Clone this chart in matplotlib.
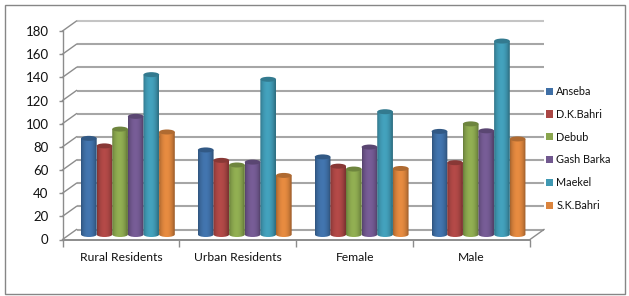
import numpy as np
import matplotlib
matplotlib.use("Agg")
import matplotlib.pyplot as plt
from matplotlib.patches import Ellipse, PathPatch, Rectangle
from matplotlib.path import Path

plt.rcParams["font.family"] = ["Lato", "DejaVu Sans"]

W, H = 629, 296

categories = ["Rural Residents", "Urban Residents", "Female", "Male"]
series_names = ["Anseba", "D.K.Bahri", "Debub", "Gash Barka", "Maekel", "S.K.Bahri"]
anseba = [83, 73, 67, 89]
dk_bahri = [76.5, 64, 59, 62]
debub = [91, 60, 56.5, 95.5]
gash_barka = [102, 62.5, 75.5, 89.5]
maekel = [138, 134, 106, 167]
sk_bahri = [88.5, 51, 57, 82.5]
y_ticks = list(range(0, 200, 20))

series_values = [anseba, dk_bahri, debub, gash_barka, maekel, sk_bahri]
colors = ["#3f6fa6", "#aa4644", "#8aa64e", "#71588f", "#4099b3", "#db843d"]

GRID = "#a6a6a6"
AXIS = "#8c8c8c"

# pixel geometry of the plot box
left, right, top, bottom = 62.5, 530.0, 31.0, 239.5
px_x = 4 / (right - left)
px_y = 180 / (bottom - top)
depth_x = 14 * px_x
depth_y = 10 * px_y
bar_w = 15.7 * px_x
bar_start = 18.5 * px_x
bar_lift = 5 * px_y
cap_h = 5.0 * px_y


def shade(color):
    rgb = np.array(matplotlib.colors.to_rgb(color))
    pos = np.linspace(0, 1, 40)
    light = 0.74 + 0.32 * np.sin(np.pi * np.clip(pos * 1.06, 0, 1)) ** 0.7
    return np.clip(rgb[None, :] * light[:, None], 0, 1)[None, :, :]


def draw_bar(ax, x, value, color):
    y0 = bar_lift
    y1 = bar_lift + value
    x1 = x + bar_w
    cx = x + bar_w / 2
    k = 0.5523 * bar_w / 2
    c = cap_h / 2
    verts = [(x, y1), (x, y0), (x, y0 - c * 0.55), (cx - k, y0 - c), (cx, y0 - c),
             (cx + k, y0 - c), (x1, y0 - c * 0.55), (x1, y0), (x1, y1), (x, y1)]
    codes = [Path.MOVETO, Path.LINETO, Path.CURVE4, Path.CURVE4, Path.CURVE4,
             Path.CURVE4, Path.CURVE4, Path.CURVE4, Path.LINETO, Path.CLOSEPOLY]
    body = PathPatch(Path(verts, codes), transform=ax.transData, fc="none", ec="none")
    ax.add_patch(body)
    image = ax.imshow(shade(color), extent=(x, x1, y0 - c, y1), aspect="auto",
                      interpolation="bilinear", zorder=3)
    image.set_clip_path(body)
    cap_color = np.array(matplotlib.colors.to_rgb(color)) * 0.8
    ax.add_patch(Ellipse((cx, y1), bar_w, cap_h, fc=cap_color, ec="none", zorder=4))


def main():
    fig = plt.figure(figsize=(W / 100, H / 100), dpi=100, facecolor="white")
    fig.add_artist(Rectangle((4.5 / W, 1 - 293.5 / H), 620.5 / W, 289 / H, fc="white",
                             ec="#868686", lw=1.0, transform=fig.transFigure, zorder=-1))
    ax = fig.add_axes([left / W, 1 - bottom / H, (right - left) / W, (bottom - top) / H])
    ax.patch.set_alpha(0)

    # back wall gridlines and the slanted side wall
    for tick in y_ticks:
        line_color = "#c4c4c4" if tick == 180 else GRID
        ax.plot([depth_x, 4 + depth_x], [tick + depth_y, tick + depth_y], color=line_color,
                lw=1.5, clip_on=False, zorder=1, solid_capstyle="butt")
        ax.plot([0, depth_x], [tick, tick + depth_y], color=AXIS, lw=1.0, clip_on=False, zorder=1)
    ax.plot([4, 4 + depth_x], [0, depth_y], color=AXIS, lw=1.0, clip_on=False, zorder=1)

    for s, values in enumerate(series_values):
        for c, value in enumerate(values):
            draw_bar(ax, c + bar_start + s * bar_w * 0.995, value, colors[s])

    ax.set_xlim(0, 4)
    ax.set_ylim(0, 180)
    for side in ["top", "right"]:
        ax.spines[side].set_visible(False)
    for side in ["left", "bottom"]:
        ax.spines[side].set_color(AXIS)
        ax.spines[side].set_linewidth(1.0)
    ax.spines["bottom"].set_linewidth(1.4)
    ax.spines["bottom"].set_zorder(5)

    ax.set_yticks(y_ticks)
    ax.tick_params(axis="y", length=3, width=1, color=AXIS, pad=7, labelsize=9.5, labelcolor="#111111")
    ax.set_xticks(range(5), labels=[""] * 5)
    ax.set_xticks(np.arange(4) + 0.5, labels=categories, minor=True)
    ax.tick_params(axis="x", which="major", length=5, width=1, color=AXIS)
    ax.tick_params(axis="x", which="minor", length=0, pad=9, labelsize=8.7, labelcolor="#111111")

    # legend
    handles = [Rectangle((0, 0), 1, 1, fc=c, ec="none") for c in colors]
    fig.legend(handles, series_names, loc="upper left", bbox_to_anchor=(546 / W, 1 - 86 / H),
               frameon=False, fontsize=7.8, handlelength=0.65, handleheight=0.65, handletextpad=0.3,
               labelspacing=1.09, borderpad=0, borderaxespad=0, labelcolor="#111111")

    fig.savefig("out.png", dpi=100)
    plt.close(fig)


if __name__ == "__main__":
    main()
